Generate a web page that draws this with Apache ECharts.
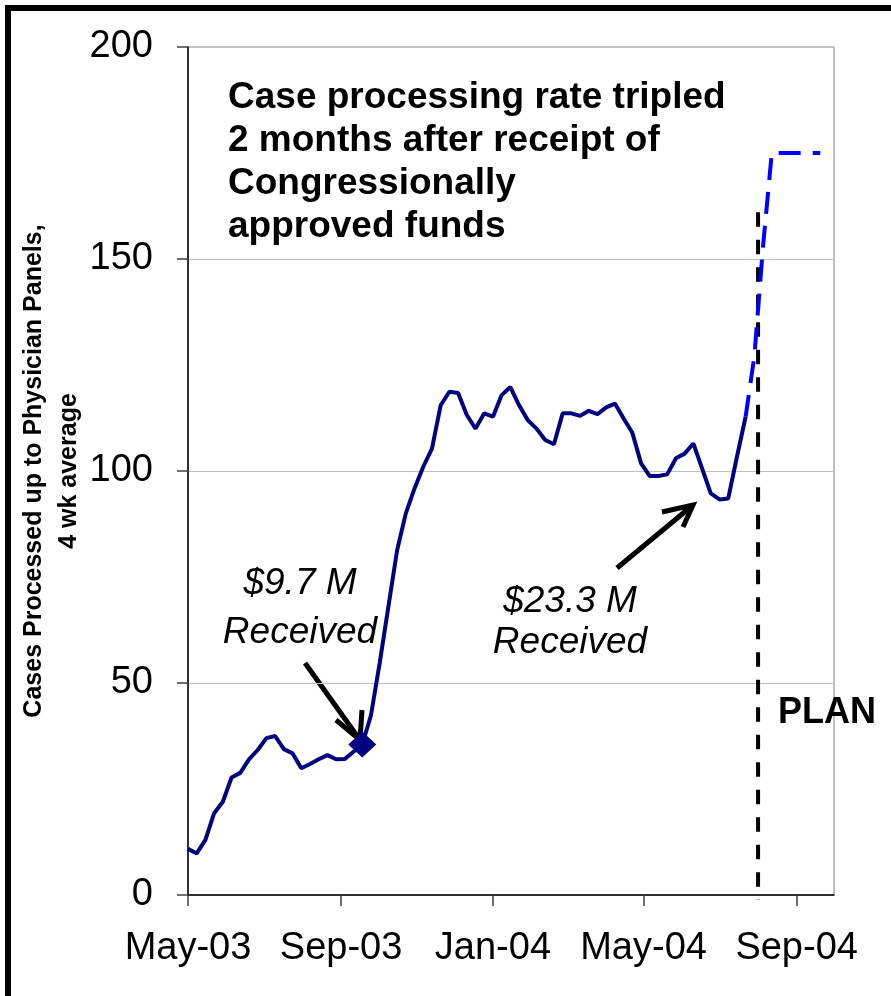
<!DOCTYPE html>
<html>
<head>
<meta charset="utf-8">
<script src="https://cdn.jsdelivr.net/npm/echarts@6/dist/echarts.min.js"></script>
<style>
  html, body { margin: 0; padding: 0; background: #fff; }
  #chart { width: 891px; height: 996px; }
</style>
</head>
<body>
<div id="chart"></div>
<script>
// weekly 4 wk average, May-03 .. Jul-04
const weeks = [
  '2003-05-01', '2003-05-08', '2003-05-15', '2003-05-22', '2003-05-29',
  '2003-06-05', '2003-06-12', '2003-06-19', '2003-06-26', '2003-07-03',
  '2003-07-10', '2003-07-17', '2003-07-24', '2003-07-31', '2003-08-07',
  '2003-08-14', '2003-08-21', '2003-08-28', '2003-09-04', '2003-09-11',
  '2003-09-18', '2003-09-25', '2003-10-02', '2003-10-09', '2003-10-16',
  '2003-10-23', '2003-10-30', '2003-11-06', '2003-11-13', '2003-11-20',
  '2003-11-27', '2003-12-04', '2003-12-11', '2003-12-18', '2003-12-25',
  '2004-01-01', '2004-01-08', '2004-01-15', '2004-01-22', '2004-01-29',
  '2004-02-05', '2004-02-12', '2004-02-19', '2004-02-26', '2004-03-04',
  '2004-03-11', '2004-03-18', '2004-03-25', '2004-04-01', '2004-04-08',
  '2004-04-15', '2004-04-22', '2004-04-29', '2004-05-06', '2004-05-13',
  '2004-05-20', '2004-05-27', '2004-06-03', '2004-06-10', '2004-06-17',
  '2004-06-24', '2004-07-01', '2004-07-08', '2004-07-15', '2004-07-22'
];
const cases = [
  10.9, 9.8, 13.0, 19.3, 22.0,
  27.7, 28.8, 32.0, 34.2, 37.0,
  37.5, 34.4, 33.4, 29.9, 30.9,
  32.0, 33.0, 32.0, 32.1, 33.8,
  35.5, 42.4, 54.7, 68.0, 81.3,
  90.0, 95.9, 101.0, 105.3, 115.5,
  118.7, 118.4, 113.2, 110.0, 113.6,
  112.8, 117.9, 119.8, 115.5, 112.0,
  110.0, 107.3, 106.3, 113.6, 113.6,
  113.0, 114.2, 113.4, 115.0, 115.9,
  112.4, 109.0, 101.8, 98.8, 98.8,
  99.2, 103.0, 104.1, 106.5, 100.6,
  94.7, 93.3, 93.5, 103.3, 112.8
];
// plan
const planWeeks = ['2004-07-22', '2004-07-29', '2004-08-05', '2004-08-12', '2004-09-20'];
const planCases = [112.8, 127, 153, 175, 175];
// $9.7 M received
const fundsDate = '2003-09-18';
const fundsValue = 35.5;
// PLAN start line
const planLineDate = '2004-08-01';
const planLineValues = [161, -1.2];
const xTicks = ['2003-05-01', '2003-09-01', '2004-01-01', '2004-05-01', '2004-09-01'];
const xRange = ['2003-05-01', '2004-10-01'];
const monthNames = ['Jan', 'Feb', 'Mar', 'Apr', 'May', 'Jun', 'Jul', 'Aug', 'Sep', 'Oct', 'Nov', 'Dec'];

// dates -> days since start of axis
const DAY = 86400000;
const ms = s => {
  const p = s.split('-').map(Number);
  return Date.UTC(p[0], p[1] - 1, p[2]);
};
const t0 = ms(xRange[0]);
const day = s => Math.round((ms(s) - t0) / DAY);

const FONT = '"Liberation Sans", Arial, sans-serif';
const chart = echarts.init(document.getElementById('chart'));

const option = {
  animation: false,
  backgroundColor: '#fff',
  textStyle: { fontFamily: FONT },
  title: {
    text: 'Case processing rate tripled\n2 months after receipt of\nCongressionally\napproved funds',
    left: 228,
    top: 76,
    padding: 0,
    textStyle: {
      fontFamily: FONT,
      fontSize: 37,
      fontWeight: 'bold',
      color: '#000',
      lineHeight: 43
    }
  },
  grid: {
    left: 188,
    right: 57,
    top: 47,
    bottom: 101,
    show: true,
    borderColor: '#808080',
    borderWidth: 1
  },
  xAxis: {
    type: 'value',
    min: 0,
    max: day(xRange[1]),
    splitLine: { show: false },
    axisLine: { lineStyle: { color: '#000', width: 1.5 } },
    axisTick: {
      length: 11,
      lineStyle: { color: '#404040', width: 1.5 },
      customValues: xTicks.map(day)
    },
    axisLabel: {
      fontSize: 38,
      color: '#000',
      margin: 35,
      customValues: xTicks.map(day),
      formatter: function (v) {
        const d = new Date(t0 + v * DAY);
        return monthNames[d.getUTCMonth()] + '-' + String(d.getUTCFullYear()).slice(2);
      }
    }
  },
  yAxis: {
    type: 'value',
    min: 0,
    max: 200,
    interval: 50,
    name: 'Cases Processed up to Physician Panels,\n4 wk average',
    nameLocation: 'middle',
    nameRotate: 90,
    nameGap: 101,
    nameMoveOverlap: false,
    nameTextStyle: {
      fontFamily: FONT,
      fontSize: 25,
      fontWeight: 'bold',
      color: '#000',
      lineHeight: 35
    },
    axisLine: { show: true, lineStyle: { color: '#000', width: 1.5 } },
    axisTick: { show: true, length: 11, lineStyle: { color: '#404040', width: 1.5 } },
    axisLabel: { fontSize: 38, color: '#000', margin: 35 },
    splitLine: { lineStyle: { color: '#c0c0c0', width: 1 } }
  },
  series: [
    {
      name: 'Cases',
      type: 'line',
      data: cases.map((v, i) => [day(weeks[i]), v]),
      showSymbol: false,
      lineStyle: { color: '#000080', width: 4 },
      itemStyle: { color: '#000080' },
      z: 3
    },
    {
      name: 'Plan line',
      type: 'line',
      data: planLineValues.map(v => [day(planLineDate), v]),
      showSymbol: false,
      clip: false,
      lineStyle: { color: '#000', width: 4, type: [14.5, 13] },
      z: 4
    },
    {
      name: 'Plan',
      type: 'line',
      data: planCases.map((v, i) => [day(planWeeks[i]), v]),
      showSymbol: false,
      lineStyle: { color: '#0000ff', width: 4, type: [22, 12] },
      z: 5
    },
    {
      name: 'Funds',
      type: 'scatter',
      data: [[day(fundsDate), fundsValue]],
      symbol: 'diamond',
      symbolSize: [28, 26],
      itemStyle: { color: '#000080', opacity: 1 },
      z: 6
    }
  ],
  graphic: [
    {
      type: 'rect',
      silent: true,
      shape: { x: 8, y: 8, width: 900, height: 1000 },
      style: { fill: null, stroke: '#000', lineWidth: 6 }
    },
    // arrow to $9.7 M point
    {
      type: 'polyline',
      shape: { points: [[305, 663], [360, 740]] },
      style: { stroke: '#000', lineWidth: 5, fill: null }
    },
    {
      type: 'polyline',
      shape: { points: [[336, 720], [360, 740], [362, 710]] },
      style: { stroke: '#000', lineWidth: 5, fill: null }
    },
    // arrow to $23.3 M dip
    {
      type: 'polyline',
      shape: { points: [[617, 568], [693, 505]] },
      style: { stroke: '#000', lineWidth: 5, fill: null }
    },
    {
      type: 'polyline',
      shape: { points: [[662, 512], [693, 505], [683, 527]] },
      style: { stroke: '#000', lineWidth: 5, fill: null }
    },
    {
      type: 'text',
      style: { x: 300, y: 584, text: '$9.7 M', font: 'italic 37px ' + FONT, fill: '#000', textAlign: 'center', textVerticalAlign: 'middle' }
    },
    {
      type: 'text',
      style: { x: 300, y: 633, text: 'Received', font: 'italic 37px ' + FONT, fill: '#000', textAlign: 'center', textVerticalAlign: 'middle' }
    },
    {
      type: 'text',
      style: { x: 570, y: 602, text: '$23.3 M', font: 'italic 37px ' + FONT, fill: '#000', textAlign: 'center', textVerticalAlign: 'middle' }
    },
    {
      type: 'text',
      style: { x: 570, y: 643, text: 'Received', font: 'italic 37px ' + FONT, fill: '#000', textAlign: 'center', textVerticalAlign: 'middle' }
    },
    {
      type: 'text',
      style: { x: 827, y: 713, text: 'PLAN', font: 'bold 36px ' + FONT, fill: '#000', textAlign: 'center', textVerticalAlign: 'middle' }
    }
  ]
};

chart.setOption(option);
</script>
</body>
</html>
